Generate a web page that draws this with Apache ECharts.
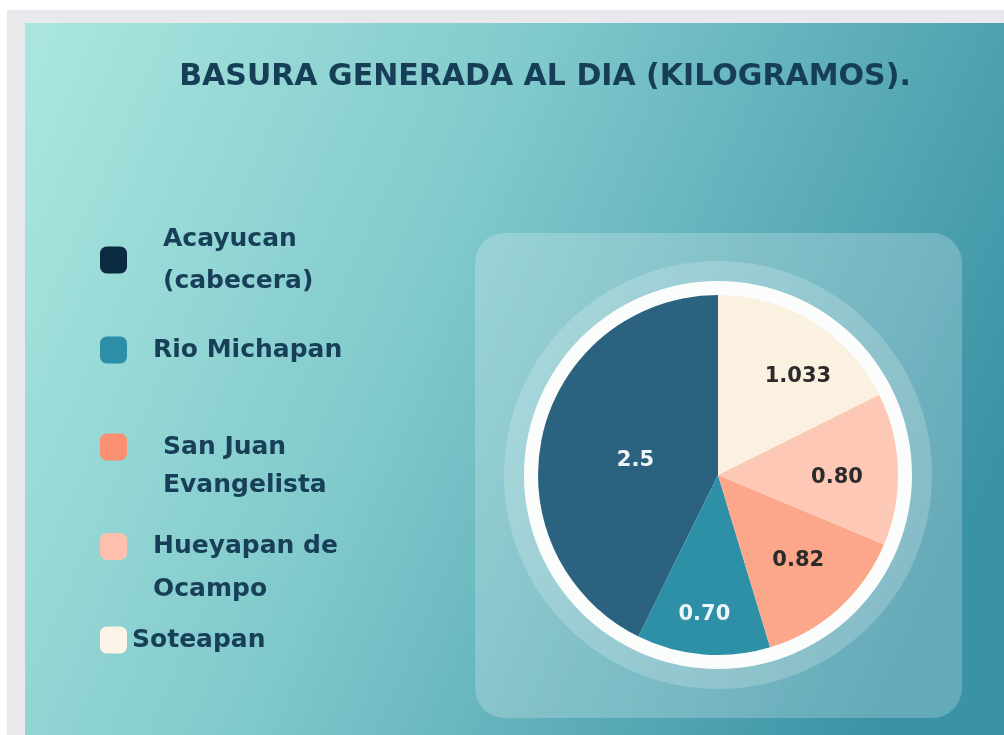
<!DOCTYPE html>
<html>
<head>
<meta charset="utf-8">
<script src="https://cdn.jsdelivr.net/npm/echarts@6/dist/echarts.min.js"></script>
<style>
  html, body { margin: 0; padding: 0; background: #ffffff; }
  #chart { width: 1004px; height: 735px; }
</style>
</head>
<body>
<div id="chart"></div>
<script>
// datos (kg por dia)
const places = ['Acayucan (cabecera)', 'Rio Michapan', 'San Juan Evangelista', 'Hueyapan de Ocampo', 'Soteapan'];
// una linea vacia al inicio deja el cuadro alineado con la primera linea
const legendText = ['Acayucan\n(cabecera)', 'Rio Michapan', '\nSan Juan\nEvangelista', '\nHueyapan de\nOcampo', 'Soteapan'];
const kilos = [2.5, 0.70, 0.82, 0.80, 1.033];
const valueLabels = ['2.5', '0.70', '0.82', '0.80', '1.033'];

// estilos
const sliceColors = ['#2a627f', '#2e90a6', '#fca68a', '#fdc8b5', '#faf1e0'];
const legendColors = ['#0c2b42', '#2d8ea8', '#fb8f72', '#fdc0ae', '#fdf3e6'];
const labelColors = ['#f2f6f8', '#eef6f8', '#2b2b2b', '#2b2b2b', '#2b2b2b'];
const labelShift = [[8, 7], [-6, 47], [18, 16], [26, 6], [31, -19]];
// leyenda: top, sangria, alto de linea
const legendLayout = [
  { top: 218, indent: 31, lh: 42 },
  { top: 330, indent: 21, lh: 40 },
  { top: 390, indent: 31, lh: 38 },
  { top: 482, indent: 21, lh: 43 },
  { top: 620, indent: 0, lh: 40 }
];

const FONT = '"DejaVu Sans", sans-serif';
const center = [718, 475];

const myChart = echarts.init(document.getElementById('chart'));

const option = {
  animation: false,
  title: {
    text: 'BASURA GENERADA AL DIA (KILOGRAMOS).',
    left: 540,
    top: 57,
    textAlign: 'center',
    textStyle: { fontFamily: FONT, fontWeight: 'bold', fontSize: 30, color: '#163e57' }
  },
  legend: places.map((p, i) => ({
    data: [{ name: p, itemStyle: { color: legendColors[i] } }],
    left: 100,
    top: legendLayout[i].top,
    padding: 0,
    icon: 'roundRect',
    itemWidth: 27,
    itemHeight: 27,
    selectedMode: false,
    formatter: () => legendText[i],
    textStyle: {
      fontFamily: FONT,
      fontWeight: 'bold',
      fontSize: 25,
      color: '#173f58',
      lineHeight: legendLayout[i].lh,
      padding: [0, 0, 0, legendLayout[i].indent]
    }
  })),
  graphic: [
    // marco gris
    { type: 'rect', z: -10, shape: { x: 7, y: 10, width: 1000, height: 730 }, style: { fill: '#e9e8ec' } },
    {
      type: 'rect', z: -9,
      shape: { x: 25, y: 23, width: 979, height: 712 },
      style: {
        fill: new echarts.graphic.LinearGradient(0, 0, 1, 0.6, [
          { offset: 0, color: '#abe7df' },
          { offset: 0.45, color: '#80c9cc' },
          { offset: 1, color: '#3a92a5' }
        ])
      }
    },
    {
      type: 'rect', z: -8,
      shape: { x: 475, y: 233, width: 487, height: 485, r: 30 },
      style: { fill: 'rgba(255,255,255,0.22)' }
    },
    { type: 'circle', z: -7, shape: { cx: center[0], cy: center[1], r: 214 }, style: { fill: 'rgba(255,255,255,0.2)' } },
    { type: 'circle', z: -6, shape: { cx: center[0], cy: center[1], r: 194 }, style: { fill: '#fbfdfd' } }
  ],
  series: [
    {
      type: 'pie',
      center: center,
      radius: [0, 180],
      startAngle: 90,
      clockwise: false,
      silent: true,
      label: {
        position: 'inside',
        fontFamily: FONT,
        fontWeight: 'bold',
        fontSize: 21
      },
      labelLine: { show: false },
      data: places.map((p, i) => ({
        name: p,
        value: kilos[i],
        itemStyle: { color: sliceColors[i] },
        label: { formatter: valueLabels[i], color: labelColors[i], offset: labelShift[i] }
      }))
    }
  ]
};

myChart.setOption(option);

window.addEventListener('resize', () => {
  myChart.resize();
});
</script>
</body>
</html>
